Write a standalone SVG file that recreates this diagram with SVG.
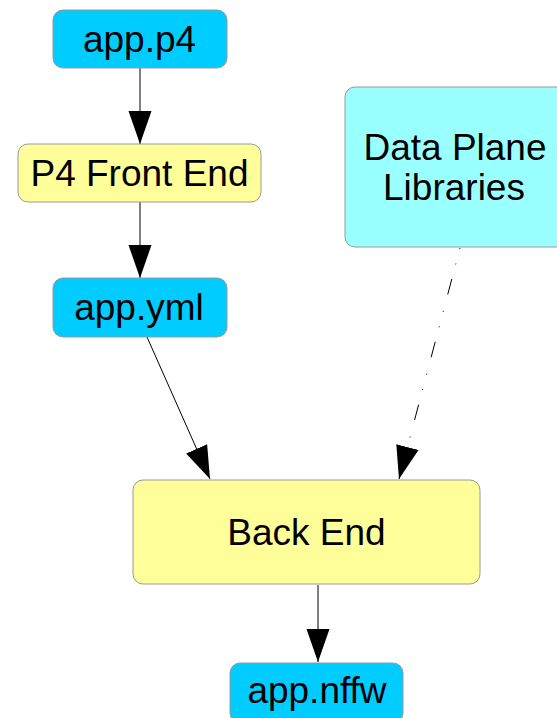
<svg xmlns="http://www.w3.org/2000/svg" width="557" height="718" viewBox="0 0 557 718">
<style>
.box{stroke:#999999;stroke-width:1}
.file{fill:#00ccff}
.tool{fill:#ffff99}
.lib{fill:#99ffff}
text{font-family:"Liberation Sans",Arial,sans-serif;font-size:37px;fill:#000;text-anchor:middle}
.edge{stroke:#000;stroke-width:1;fill:none}
.dashdot{stroke-dasharray:1 15 1 15 16 17}
</style>
<defs>
<marker id="arrow" markerUnits="userSpaceOnUse" markerWidth="34" markerHeight="24" viewBox="0 0 34 24" refX="33" refY="12" orient="auto">
<path d="M0,0.5 L33,12 L0,23.5 z" fill="#000"/>
</marker>
</defs>
<rect width="557" height="718" fill="#ffffff"/>
<g id="connectors">
<line class="edge" x1="140" y1="68" x2="140" y2="144" marker-end="url(#arrow)"/>
<line class="edge" x1="140" y1="202" x2="140" y2="278" marker-end="url(#arrow)"/>
<line class="edge" x1="147" y1="337" x2="210" y2="479" marker-end="url(#arrow)"/>
<line class="edge dashdot" x1="460" y1="248" x2="399" y2="479" marker-end="url(#arrow)"/>
<line class="edge" x1="318" y1="585" x2="318" y2="662" marker-end="url(#arrow)"/>
</g>
<g id="app-p4">
<rect class="box file" x="53" y="10" width="174" height="58" rx="10"/>
<text x="139.5" y="52">app.p4</text>
</g>
<g id="p4-front-end">
<rect class="box tool" x="18" y="144" width="243" height="58" rx="10"/>
<text x="139.5" y="186">P4 Front End</text>
</g>
<g id="app-yml">
<rect class="box file" x="53" y="278" width="174" height="59" rx="10"/>
<text x="139" y="320">app.yml</text>
</g>
<g id="data-plane-libraries">
<rect class="box lib" x="345" y="87" width="225" height="160" rx="10"/>
<text x="455" y="160">Data Plane</text>
<text x="454" y="200">Libraries</text>
</g>
<g id="back-end">
<rect class="box tool" x="133" y="480" width="347" height="104" rx="10"/>
<text x="306.5" y="545">Back End</text>
</g>
<g id="app-nffw">
<rect class="box file" x="230" y="663" width="173" height="60" rx="10"/>
<text x="317" y="703">app.nffw</text>
</g>
</svg>
